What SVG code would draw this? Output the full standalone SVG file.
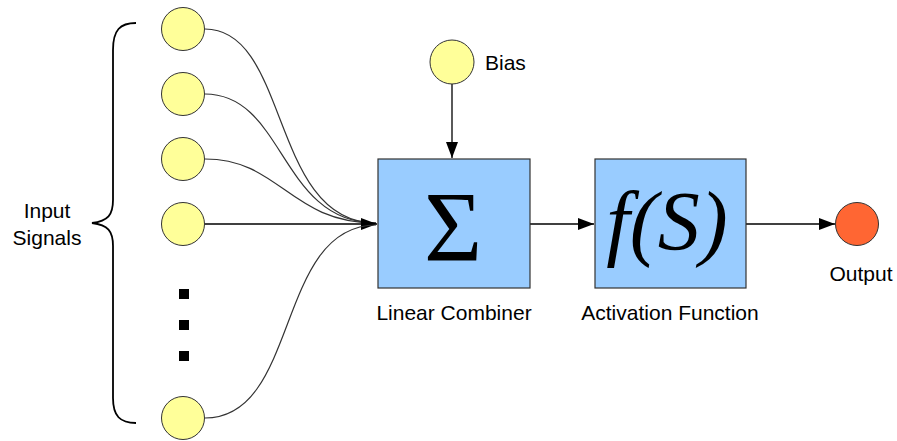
<svg xmlns="http://www.w3.org/2000/svg" width="897" height="441" viewBox="0 0 897 441">
  <style>
    .in { fill: #ffff99; stroke: #333333; stroke-width: 1; }
    .box { fill: #99ccff; stroke: #333333; stroke-width: 1.2; }
    .lbl { font-family: "Liberation Sans", Arial, sans-serif; font-size: 21px; fill: #000000; }
    .curve { fill: none; stroke: #333333; stroke-width: 1.2; }
    .line { fill: none; stroke: #000000; stroke-width: 1.3; }
    .sym { font-family: "Liberation Serif", "Times New Roman", serif; fill: #000000; }
  </style>
  <defs>
    <marker id="arrow" viewBox="0 0 16 12" refX="16" refY="6" markerWidth="16" markerHeight="12" markerUnits="userSpaceOnUse" orient="auto">
      <path d="M0,0 L16,6 L0,12 z" fill="#000000"/>
    </marker>
  </defs>

  <rect width="897" height="441" fill="#ffffff"/>

  <!-- brace grouping the inputs -->
  <g id="brace">
    <path d="M136,23 C120,23 113,30 113,50 L113,200 C113,215 108,221 92,223 C108,225 113,231 113,246 L113,398 C113,416 120,423 136,423" fill="none" stroke="#000000" stroke-width="1.8"/>
    <text class="lbl" x="47" y="218" text-anchor="middle">Input</text>
    <text class="lbl" x="47" y="245" text-anchor="middle">Signals</text>
  </g>

  <!-- connectors -->
  <g id="connectors">
    <path class="curve" d="M205,29 C290,29 270,223 376,223"/>
    <path class="curve" d="M205,94 C285,94 280,223 376,223"/>
    <path class="curve" d="M205,159 C280,159 290,223 376,223"/>
    <path class="line" d="M205,224 L377,224" marker-end="url(#arrow)"/>
    <path class="curve" d="M205,418 C300,418 275,226 376,225"/>
    <path class="line" d="M452,84 L452,158" marker-end="url(#arrow)"/>
    <path class="line" d="M530,224 L594,224" marker-end="url(#arrow)"/>
    <path class="line" d="M746,224 L835,224" marker-end="url(#arrow)"/>
  </g>

  <!-- input nodes -->
  <g id="input1"><circle class="in" cx="183" cy="29" r="21.5"/></g>
  <g id="input2"><circle class="in" cx="183" cy="94" r="21.5"/></g>
  <g id="input3"><circle class="in" cx="183" cy="159" r="21.5"/></g>
  <g id="input4"><circle class="in" cx="183" cy="224" r="21.5"/></g>
  <g id="ellipsis">
    <rect x="179" y="289" width="10" height="10" fill="#000000"/>
    <rect x="179" y="320" width="10" height="10" fill="#000000"/>
    <rect x="179" y="351" width="10" height="10" fill="#000000"/>
  </g>
  <g id="inputN"><circle class="in" cx="183" cy="418" r="21.5"/></g>

  <!-- bias -->
  <g id="bias">
    <circle class="in" cx="452" cy="62" r="22"/>
    <text class="lbl" x="485" y="70">Bias</text>
  </g>

  <!-- linear combiner -->
  <g id="combiner">
    <rect class="box" x="378" y="159" width="152" height="129"/>
    <text class="sym" x="453" y="260" font-size="100" text-anchor="middle">Σ</text>
    <text class="lbl" x="454" y="320" text-anchor="middle">Linear Combiner</text>
  </g>

  <!-- activation function -->
  <g id="activation">
    <rect class="box" x="595" y="159" width="151" height="129"/>
    <text class="sym" x="667" y="250" font-size="84" font-style="italic" text-anchor="middle">f(S)</text>
    <text class="lbl" x="670" y="320" text-anchor="middle">Activation Function</text>
  </g>

  <!-- output -->
  <g id="output">
    <circle cx="857" cy="224" r="21.5" fill="#ff6633" stroke="#333333" stroke-width="1"/>
    <text class="lbl" x="861" y="281" text-anchor="middle">Output</text>
  </g>
</svg>
